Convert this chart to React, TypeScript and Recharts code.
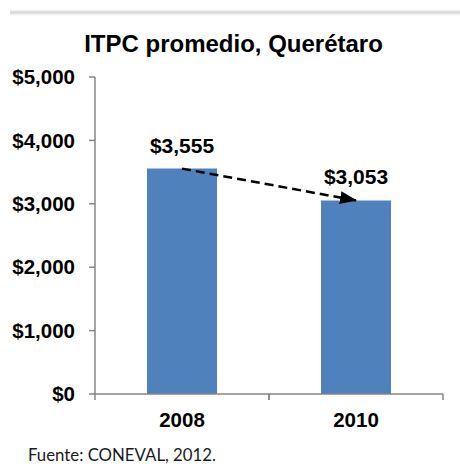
import React from 'react';
import { ComposedChart, Bar, Line, XAxis, YAxis, LabelList } from 'recharts';

const years = ['2008', '2010'];
const itpcValues = [3555, 3053];
const yTicks = [0, 1000, 2000, 3000, 4000, 5000];
const titleText = 'ITPC promedio, Querétaro';
const sourceText = 'Fuente: CONEVAL, 2012.';

const data = years.map((y, i) => ({ year: y, value: itpcValues[i] }));

const FONT = '"Liberation Sans", Arial, sans-serif';
const AXIS_COLOR = '#868686';
const fmt = (v: number) => '$' + v.toLocaleString('en-US');

const XTick = (props: any) => {
  const { x, payload } = props;
  const half = 87;
  return (
    <g>
      <line x1={x - half} y1={394} x2={x - half} y2={400} stroke={AXIS_COLOR} strokeWidth={1.5} />
      <line x1={x + half} y1={394} x2={x + half} y2={400} stroke={AXIS_COLOR} strokeWidth={1.5} />
      <text x={x} y={427} textAnchor="middle" fontFamily={FONT} fontWeight="bold" fontSize={20.5} fill="#000">
        {payload.value}
      </text>
    </g>
  );
};

export default function App() {
  return (
    <div style={{ position: 'absolute', left: 0, top: 0, width: 460, height: 464, background: '#fff', overflow: 'hidden' }}>
      <div
        style={{
          position: 'absolute',
          left: 10,
          top: 10,
          width: 450,
          height: 6,
          background: 'linear-gradient(to bottom, #f4f4f4 0%, #d6d6d6 40%, #ececec 70%, #ffffff 100%)',
        }}
      />
      <ComposedChart
        width={460}
        height={464}
        data={data}
        margin={{ top: 77, right: 17, bottom: 0, left: 0 }}
        barCategoryGap="30%"
      >
        <defs>
          <marker
            id="arrowHead"
            viewBox="0 0 17 13"
            refX={16}
            refY={6.5}
            markerUnits="userSpaceOnUse"
            markerWidth={17}
            markerHeight={13}
            preserveAspectRatio="none"
            orient="auto"
          >
            <path d="M0,0 L17,6.5 L0,13 z" fill="#000" />
          </marker>
        </defs>
        <XAxis
          dataKey="year"
          height={70}
          axisLine={{ stroke: AXIS_COLOR, strokeWidth: 1.5 }}
          tickLine={false}
          tick={<XTick />}
          interval={0}
        />
        <YAxis
          width={95}
          domain={[0, 5000]}
          ticks={yTicks}
          tickFormatter={fmt}
          axisLine={{ stroke: AXIS_COLOR, strokeWidth: 1.5 }}
          tickLine={{ stroke: AXIS_COLOR, strokeWidth: 1.5 }}
          tickSize={6}
          tickMargin={14}
          tick={{ fill: '#000', fontFamily: FONT, fontWeight: 'bold', fontSize: 20.5 }}
          interval={0}
        />
        <Bar dataKey="value" fill="#4F81BD" barSize={70} isAnimationActive={false}>
          <LabelList
            dataKey="value"
            position="top"
            offset={16}
            formatter={(v: any) => fmt(Number(v))}
            style={{ fill: '#000', fontFamily: FONT, fontWeight: 'bold', fontSize: 21 }}
          />
        </Bar>
        <Line
          dataKey="value"
          stroke="#000"
          strokeWidth={2.5}
          strokeDasharray="9 5"
          dot={false}
          activeDot={false}
          markerEnd="url(#arrowHead)"
          isAnimationActive={false}
        />
      </ComposedChart>
      <div
        style={{
          position: 'absolute',
          left: 0,
          width: 467,
          top: 32,
          textAlign: 'center',
          fontFamily: FONT,
          fontWeight: 'bold',
          fontSize: 24,
          lineHeight: '24px',
          color: '#000',
          whiteSpace: 'nowrap',
        }}
      >
        {titleText}
      </div>
      <div
        style={{
          position: 'absolute',
          left: 28,
          top: 445,
          fontFamily: 'Lato, "Open Sans", sans-serif',
          fontSize: 16.8,
          lineHeight: '20px',
          color: '#1a1a1a',
          whiteSpace: 'nowrap',
        }}
      >
        {sourceText}
      </div>
    </div>
  );
}
